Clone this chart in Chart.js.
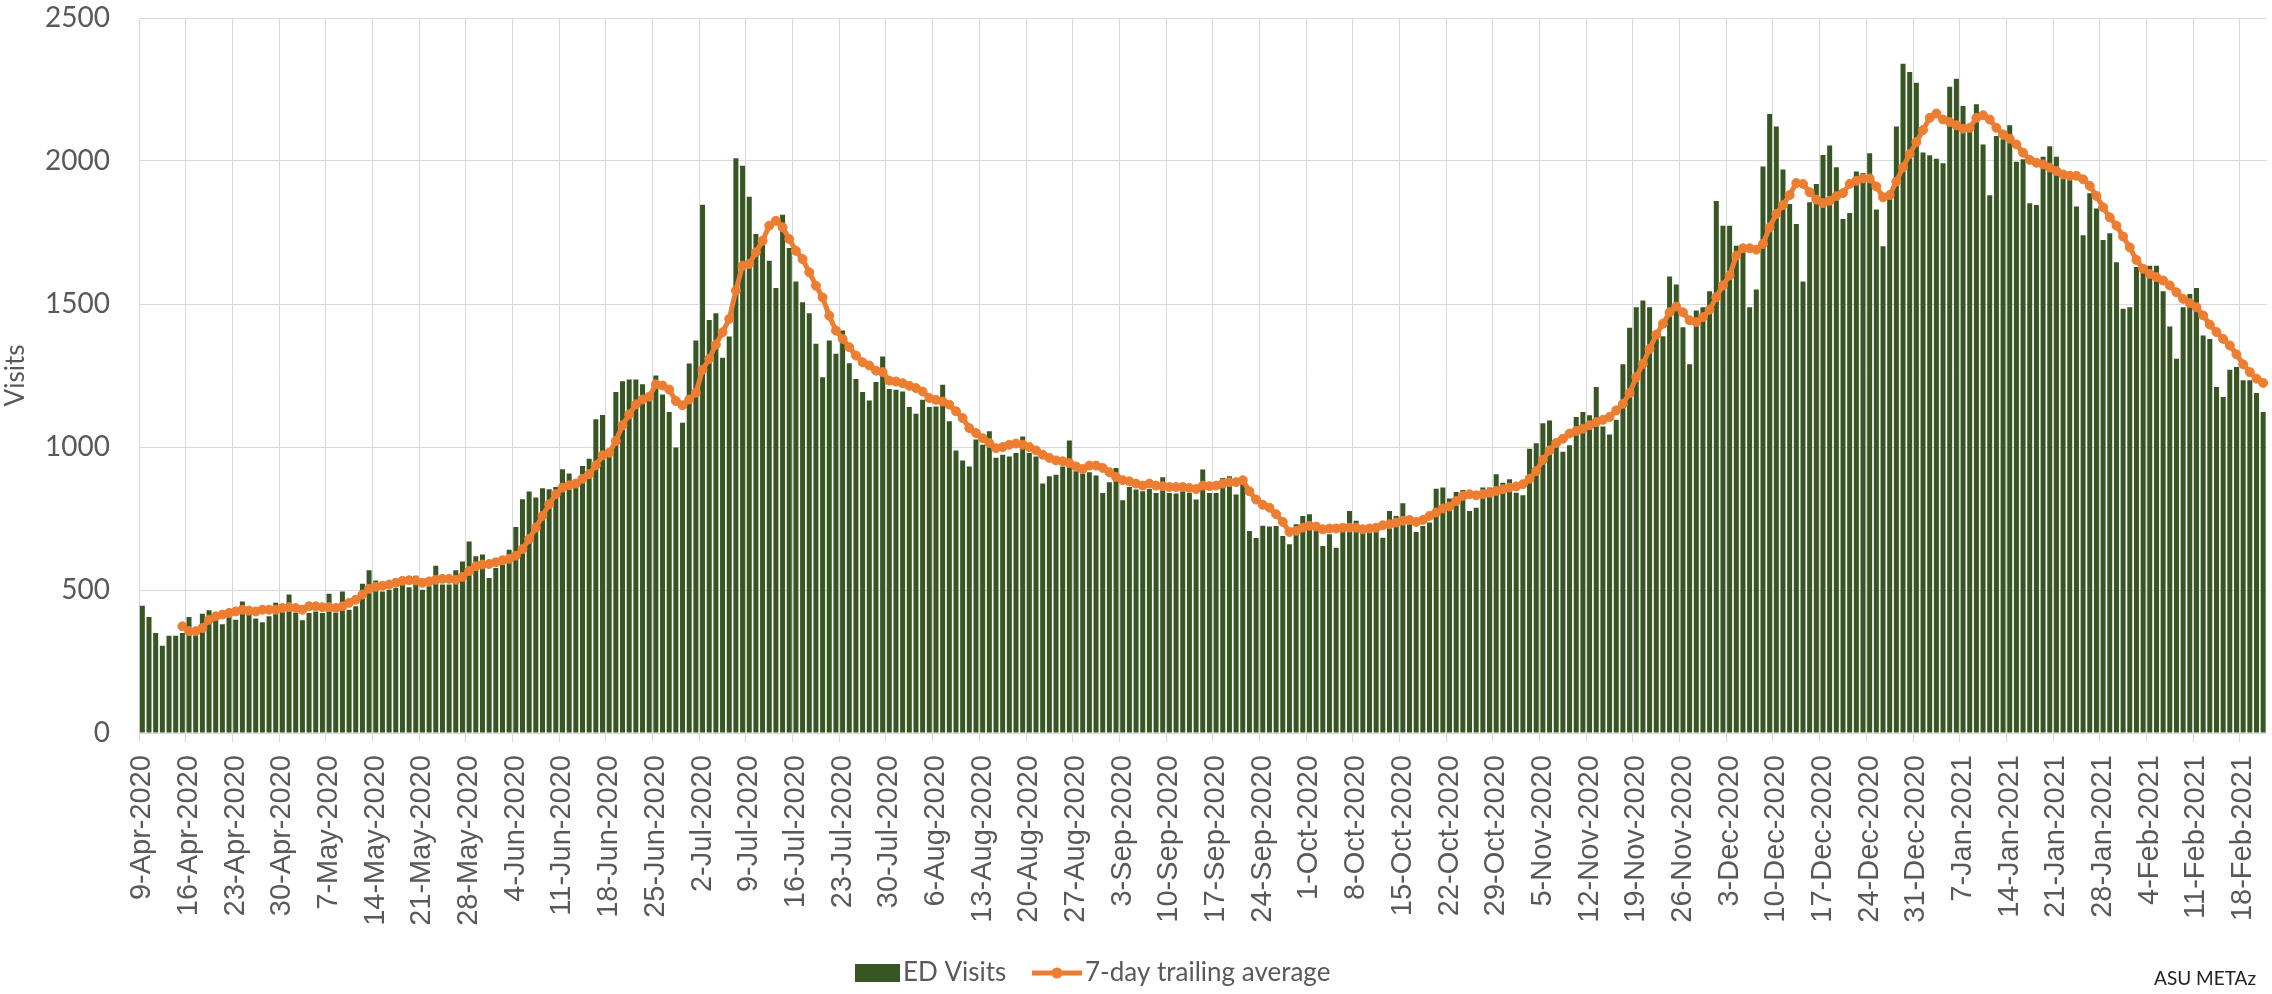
<!DOCTYPE html>
<html>
<head>
<meta charset="utf-8">
<script src="https://cdn.jsdelivr.net/npm/chart.js@4/dist/chart.umd.min.js"></script>
<style>
  html, body { margin: 0; padding: 0; background: #fff; }
  #wrap { width: 2272px; height: 994px; }
</style>
</head>
<body>
<div id="wrap"><canvas id="chart1" width="2272" height="994"></canvas></div>
<script>
// daily ED visits, 9-Apr-2020 onwards (one value per day)
const edVisits = [
  445, 406, 350, 305, 340, 340, 350, 406, 360, 417,
  429, 414, 380, 434, 396, 460, 420, 400, 387, 408,
  455, 425, 484, 420, 394, 420, 425, 420, 487, 420,
  495, 431, 443, 522, 569, 533, 495, 501, 507, 525,
  510, 550, 501, 513, 585, 519, 519, 569, 600, 670,
  618, 624, 542, 577, 589, 641, 720, 817, 844, 823,
  856, 852, 860, 922, 907, 864, 934, 959, 1097, 1112,
  980, 1192, 1230, 1236, 1236, 1219, 1166, 1250, 1184, 1122,
  998, 1085, 1292, 1372, 1847, 1444, 1468, 1312, 1386, 2010,
  1983, 1875, 1745, 1720, 1651, 1556, 1812, 1696, 1579, 1506,
  1468, 1361, 1244, 1372, 1326, 1407, 1293, 1238, 1192, 1163,
  1227, 1316, 1203, 1200, 1194, 1140, 1116, 1165, 1140, 1142,
  1218, 1090, 988, 953, 932, 1026, 1008, 1055, 962, 973,
  967, 979, 1037, 979, 967, 872, 898, 903, 932, 1023,
  915, 907, 912, 900, 839, 877, 927, 814, 860, 851,
  845, 853, 839, 894, 839, 837, 845, 839, 816, 921,
  839, 839, 892, 898, 834, 880, 706, 682, 725, 722,
  724, 689, 660, 730, 759, 765, 733, 654, 695, 648,
  712, 776, 742, 718, 724, 724, 683, 776, 759, 803,
  730, 703, 724, 736, 854, 858, 820, 843, 850, 776,
  788, 858, 858, 905, 875, 887, 840, 831, 994, 1013,
  1083, 1093, 1029, 983, 1006, 1105, 1122, 1111, 1210, 1072,
  1044, 1095, 1289, 1417, 1489, 1512, 1489, 1402, 1387, 1596,
  1568, 1419, 1289, 1477, 1489, 1545, 1860, 1774, 1774, 1704,
  1698, 1489, 1551, 1981, 2164, 2121, 1970, 1850, 1780, 1579,
  1856, 1920, 2021, 2054, 1978, 1797, 1818, 1963, 1958, 2027,
  1830, 1702, 1880, 2121, 2340, 2311, 2274, 2030, 2020, 2008,
  1992, 2260, 2288, 2192, 2111, 2198, 2058, 1880, 2087, 2076,
  2125, 1997, 2006, 1852, 1846, 2015, 2052, 2015, 1938, 1936,
  1841, 1740, 1887, 1834, 1724, 1747, 1646, 1483, 1489, 1629,
  1611, 1634, 1634, 1545, 1421, 1309, 1489, 1535, 1556, 1390,
  1378, 1210, 1175, 1270, 1280, 1233, 1233, 1189, 1122
];

// 7-day trailing average as drawn (starts on 15-Apr)
const trailingAvg = [
  null, null, null, null, null, null, 373, 356, 356, 367,
  396, 408, 414, 420, 425, 431, 428, 425, 431, 431,
  431, 437, 440, 437, 431, 443, 443, 440, 440, 437,
  443, 455, 466, 484, 504, 511, 515, 519, 525, 532,
  534, 533, 525, 530, 536, 539, 539, 536, 546, 566,
  583, 589, 591, 597, 604, 609, 620, 643, 678, 718,
  759, 800, 835, 858, 866, 872, 889, 905, 936, 971,
  980, 1021, 1076, 1114, 1149, 1166, 1176, 1219, 1215, 1201,
  1161, 1146, 1166, 1190, 1270, 1308, 1358, 1401, 1448, 1547,
  1634, 1640, 1681, 1721, 1774, 1791, 1768, 1727, 1686, 1657,
  1611, 1564, 1523, 1459, 1407, 1378, 1349, 1320, 1296, 1285,
  1267, 1262, 1232, 1229, 1223, 1214, 1206, 1194, 1171, 1165,
  1159, 1148, 1125, 1101, 1066, 1049, 1031, 1014, 996, 1000,
  1008, 1012, 1008, 1000, 988, 973, 962, 953, 950, 944,
  932, 923, 935, 935, 927, 912, 895, 884, 880, 872,
  865, 872, 865, 863, 860, 860, 860, 857, 853, 865,
  863, 865, 872, 877, 877, 884, 845, 816, 798, 788,
  765, 738, 703, 707, 718, 724, 722, 712, 715, 715,
  718, 718, 718, 712, 715, 718, 726, 730, 736, 742,
  745, 738, 745, 759, 771, 785, 792, 811, 829, 835,
  831, 835, 840, 846, 852, 858, 862, 870, 889, 916,
  955, 988, 1014, 1029, 1047, 1056, 1064, 1076, 1087, 1095,
  1105, 1128, 1151, 1189, 1244, 1291, 1343, 1393, 1431, 1471,
  1491, 1471, 1443, 1437, 1454, 1480, 1524, 1565, 1600, 1669,
  1695, 1695, 1690, 1710, 1768, 1815, 1846, 1881, 1923, 1920,
  1891, 1865, 1853, 1861, 1877, 1888, 1920, 1931, 1939, 1939,
  1911, 1873, 1881, 1928, 1978, 2024, 2066, 2108, 2151, 2166,
  2145, 2136, 2125, 2113, 2116, 2151, 2160, 2145, 2116, 2093,
  2078, 2058, 2029, 2004, 1994, 1988, 1977, 1965, 1953, 1948,
  1948, 1936, 1913, 1878, 1838, 1803, 1774, 1736, 1698, 1654,
  1623, 1605, 1594, 1582, 1565, 1541, 1518, 1503, 1489, 1460,
  1428, 1402, 1378, 1355, 1324, 1289, 1262, 1239, 1224
];

// day labels: 9-Apr-2020, 10-Apr-2020, ...
const monthNames = ['Jan', 'Feb', 'Mar', 'Apr', 'May', 'Jun', 'Jul', 'Aug', 'Sep', 'Oct', 'Nov', 'Dec'];
const startDay = new Date(2020, 3, 9);
const labels = [];
for (let i = 0; i < edVisits.length; i++) {
  const d = new Date(startDay);
  d.setDate(startDay.getDate() + i);
  labels.push(d.getDate() + '-' + monthNames[d.getMonth()] + '-' + d.getFullYear());
}
const labelEvery = 7;
const yTicks = [0, 500, 1000, 1500, 2000, 2500];

const green = '#375623';
const orange = '#ED7D31';
const gridGray = '#D9D9D9';
const textGray = '#595959';

// legend + source note drawn by hand so the line item can carry its marker
const legendPlugin = {
  id: 'excelLegend',
  afterDraw(chart) {
    const ctx = chart.ctx;
    const y = 973;
    ctx.save();
    ctx.font = '26px Lato';
    ctx.textBaseline = 'middle';
    ctx.fillStyle = green;
    ctx.fillRect(855, y - 9, 45, 18);
    ctx.fillStyle = textGray;
    ctx.fillText('ED Visits', 903, y);

    ctx.strokeStyle = orange;
    ctx.lineWidth = 5;
    ctx.beginPath();
    ctx.moveTo(1032, y);
    ctx.lineTo(1082, y);
    ctx.stroke();
    ctx.fillStyle = orange;
    ctx.beginPath();
    ctx.arc(1057, y, 5.5, 0, Math.PI * 2);
    ctx.fill();
    ctx.fillStyle = textGray;
    ctx.fillText('7-day trailing average', 1085, y);

    ctx.font = '19px Lato';
    ctx.fillStyle = '#222';
    ctx.textAlign = 'right';
    ctx.fillText('ASU METAz', 2256, 979);
    ctx.restore();
  }
};

function initChart() {
  new Chart(document.getElementById('chart1'), {
    type: 'bar',
    data: {
      labels: labels,
      datasets: [{
        type: 'line',
        label: '7-day trailing average',
        data: trailingAvg,
        borderColor: orange,
        backgroundColor: orange,
        borderWidth: 5,
        pointRadius: 4.5,
        pointBackgroundColor: orange,
        pointBorderColor: orange,
        pointBorderWidth: 1,
        tension: 0,
        order: 0
      }, {
        label: 'ED Visits',
        data: edVisits,
        backgroundColor: green,
        categoryPercentage: 1,
        barPercentage: 0.75,
        order: 1
      }]
    },
    options: {
      responsive: false,
      animation: false,
      devicePixelRatio: 1,
      layout: { padding: { top: 18, right: 0, bottom: 0, left: 0 } },
      plugins: {
        legend: { display: false },
        tooltip: { enabled: false }
      },
      scales: {
        x: {
          offset: true,
          grid: {
            offset: true,
            color: (c) => (c.index % labelEvery === 0 ? gridGray : 'rgba(0,0,0,0)'),
            tickLength: 9
          },
          border: { color: gridGray },
          ticks: {
            autoSkip: false,
            minRotation: 90,
            maxRotation: 90,
            padding: 13,
            color: textGray,
            font: { family: 'Liberation Sans', size: 29 },
            callback: (v, i) => (i % labelEvery === 0 ? labels[i] : '')
          },
          afterFit(scale) {
            scale.height = 261;
            scale.paddingLeft = 0;
            scale.paddingRight = 0;
          }
        },
        y: {
          min: yTicks[0],
          max: yTicks[yTicks.length - 1],
          afterBuildTicks(scale) { scale.ticks = yTicks.map(v => ({ value: v })); },
          grid: { color: gridGray, drawTicks: false },
          border: { color: gridGray },
          ticks: {
            padding: 29,
            color: textGray,
            font: { family: 'Lato', size: 28 },
            callback: (v) => String(v)
          },
          title: {
            display: true,
            text: 'Visits',
            color: textGray,
            padding: 0,
            font: { family: 'Lato', size: 26 }
          },
          afterFit(scale) {
            scale.width = 139;
            scale.paddingTop = 0;
            scale.paddingBottom = 0;
          }
        }
      }
    },
    plugins: [legendPlugin]
  });
}

Promise.all([
  document.fonts.load('28px Lato'),
  document.fonts.load('29px "Liberation Sans"')
]).then(initChart, initChart);
</script>
</body>
</html>
